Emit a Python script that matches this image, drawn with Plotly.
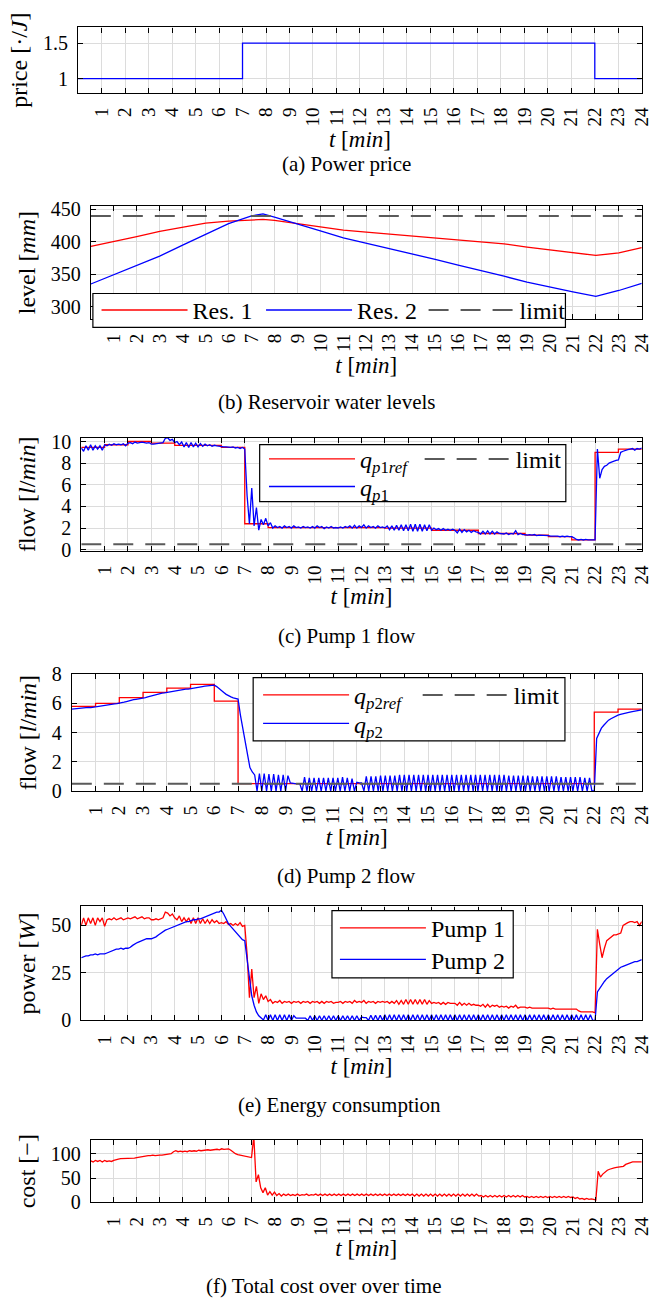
import plotly.graph_objects as go

W, H = 670, 1311
FONT = "Liberation Serif"
RED, BLUE, GRAY = "#ff0000", "#0000ff", "#5a5a5a"

# sample times of the logged signals (one sample every 6 s)
T = [i / 10 for i in range(241)]

# (a) power price
price_t = [0, 7, 22, 24]
price = [1.0, 1.5, 1.0, 1.0]

# (b) reservoir levels
level_t = [0, 1, 2, 3, 4, 5, 6, 7, 7.5, 8, 9, 10, 11, 12, 13, 14, 15, 16, 17, 18, 19, 20, 21, 22, 23, 24]
res1 = [393, 400, 408, 416, 423, 429, 432, 434, 434.5, 433, 428, 423, 418, 415, 412, 410, 407, 404, 401,
        397, 392, 388, 384, 379, 383, 391]
res2 = [335, 349, 363, 378, 395, 412, 428, 440, 443, 438, 428, 417, 406, 398, 390, 381, 373, 364, 356,
        347, 338, 330, 323, 316, 325, 336]
level_limit = [440, 440]
limit_t = [0, 24]

# (c) pump 1 flow
q1_ref_t = [0, 1, 2, 3, 4, 6, 7, 8, 13, 15, 17, 19, 20, 21, 22, 23, 24]
q1_ref = [9.45, 9.7, 10.0, 9.85, 9.65, 9.45, 2.4, 2.05, 2.0, 1.8, 1.5, 1.35, 1.2, 0.9, 9.0, 9.3, 9.3]
q1 = [
    9.4, 9.1, 9.6, 9.2, 9.7, 9.2, 9.6, 9.3, 9.6, 9.2,
    9.7, 9.6, 9.75, 9.65, 9.8, 9.7, 9.75, 9.7, 9.8, 9.6,
    9.85, 9.9, 9.8, 9.95, 9.85, 9.9, 9.95, 9.9, 9.85, 9.9,
    9.75, 9.75, 9.8, 9.8, 9.85, 9.9, 10.3, 10.35, 10.1, 10.2,
    9.9, 10.0, 9.7, 9.95, 9.5, 9.9, 9.45, 9.9, 9.5, 9.85,
    9.5, 9.8, 9.55, 9.75, 9.6, 9.7, 9.55, 9.65, 9.6, 9.55,
    9.55, 9.5, 9.5, 9.45, 9.45, 9.5, 9.4, 9.45, 9.35, 9.45,
    9.3, 5.0, 2.4, 5.7, 2.2, 3.9, 1.8, 2.8, 2.3, 2.9,
    2.2, 2.5, 2.0, 2.2, 2.05, 2.15, 2.0, 2.2, 2.05, 2.15,
    2.0, 2.2, 2.05, 2.1, 2.0, 2.15, 2.05, 2.1, 2.0, 2.15,
    2.0, 2.2, 2.05, 2.15, 1.95, 2.1, 2.0, 2.15, 2.0, 2.05,
    2.0, 2.1, 2.0, 2.15, 2.05, 2.2, 2.0, 2.25, 2.0, 2.2,
    2.05, 2.3, 2.0, 2.2, 2.05, 2.15, 2.0, 2.2, 2.05, 2.1,
    2.0, 2.2, 1.85, 2.2, 1.8, 2.25, 1.8, 2.3, 1.75, 2.3,
    1.75, 2.35, 1.7, 2.35, 1.7, 2.35, 1.7, 2.3, 1.75, 2.3,
    1.8, 2.0, 1.85, 1.95, 1.8, 1.95, 1.8, 1.9, 1.8, 1.9,
    1.8, 1.55, 1.9, 1.6, 1.85, 1.65, 1.8, 1.6, 1.75, 1.65,
    1.6, 1.45, 1.7, 1.45, 1.75, 1.45, 1.7, 1.45, 1.65, 1.5,
    1.5, 1.45, 1.55, 1.4, 1.5, 1.45, 1.75, 1.4, 1.5, 1.4,
    1.4, 1.35, 1.4, 1.35, 1.4, 1.3, 1.35, 1.35, 1.3, 1.3,
    1.3, 1.25, 1.25, 1.3, 1.25, 1.2, 1.25, 1.2, 1.25, 1.2,
    1.2, 1.1, 0.95, 0.9, 0.95, 0.9, 0.95, 0.9, 0.9, 0.85,
    0.9, 9.3, 6.6, 7.4, 7.7, 7.8, 8.0, 8.1, 8.2, 8.25,
    8.3, 9.0, 9.1, 9.2, 9.25, 9.3, 9.35, 9.2, 9.35, 9.3,
    9.4,
]
flow_limit = [0.5, 0.5]

# (d) pump 2 flow
q2_ref_t = [0, 1, 2, 3, 4, 5, 6, 7, 22, 23, 24]
q2_ref = [5.8, 6.0, 6.4, 6.75, 7.05, 7.3, 6.15, 0.5, 5.4, 5.6, 5.6]
q2 = [
    5.6, 5.62, 5.65, 5.63, 5.68, 5.7, 5.7, 5.72, 5.71, 5.74,
    5.75, 5.78, 5.82, 5.85, 5.88, 5.9, 5.93, 5.95, 5.97, 5.98,
    6.0, 6.03, 6.08, 6.12, 6.18, 6.22, 6.25, 6.28, 6.3, 6.32,
    6.35, 6.4, 6.45, 6.5, 6.55, 6.6, 6.63, 6.66, 6.7, 6.72,
    6.75, 6.8, 6.83, 6.86, 6.88, 6.9, 6.93, 6.95, 6.97, 6.98,
    7.0, 7.03, 7.05, 7.08, 7.1, 7.15, 7.18, 7.2, 7.22, 7.24,
    7.25, 7.15, 7.0, 6.85, 6.75, 6.62, 6.52, 6.45, 6.38, 6.32,
    6.3, 5.2, 4.3, 3.3, 2.5, 1.6, 1.3, 1.1, 0.0, 1.2,
    0.0, 1.2, 0.0, 1.15, 0.0, 1.15, 0.0, 1.1, 0.0, 1.1,
    0.0, 1.05, 0.55, 0.5, 0.5, 0.5, 0.5, 0.0, 0.95, 0.0,
    0.9, 0.0, 0.9, 0.0, 0.9, 0.0, 0.9, 0.0, 0.9, 0.0,
    0.9, 0.0, 0.9, 0.0, 0.95, 0.0, 0.9, 0.0, 0.85, 0.0,
    0.6, 0.55, 0.55, 0.0, 1.0, 0.0, 1.0, 0.0, 1.0, 0.0,
    1.05, 0.0, 1.05, 0.0, 1.05, 0.0, 1.05, 0.0, 1.1, 0.0,
    1.1, 0.0, 1.1, 0.0, 1.1, 0.0, 1.1, 0.0, 1.1, 0.0,
    1.1, 0.0, 1.1, 0.0, 1.1, 0.0, 1.1, 0.0, 1.1, 0.0,
    1.1, 0.0, 1.1, 0.0, 1.1, 0.0, 1.1, 0.0, 1.1, 0.0,
    1.1, 0.0, 1.1, 0.0, 1.1, 0.0, 1.1, 0.0, 1.1, 0.0,
    1.1, 0.0, 1.1, 0.0, 1.05, 0.0, 1.05, 0.0, 1.05, 0.0,
    1.05, 0.0, 1.05, 0.0, 1.0, 0.0, 1.0, 0.0, 1.0, 0.0,
    1.0, 0.0, 1.0, 0.0, 1.0, 0.0, 0.95, 0.0, 0.95, 0.0,
    0.95, 0.0, 0.95, 0.0, 0.95, 0.0, 0.9, 0.0, 0.9, 0.0,
    0.0, 3.6, 4.0, 4.3, 4.5, 4.7, 4.85, 4.95, 5.05, 5.12,
    5.2, 5.25, 5.3, 5.33, 5.37, 5.4, 5.43, 5.46, 5.5, 5.52,
    5.55,
]

# (e) power consumption
p1 = [
    50, 54, 50, 54, 51, 54, 50, 54, 52, 54,
    49.5, 53, 53.5, 53, 54, 53, 53.5, 54, 53, 53.5,
    54, 53.5, 54, 54.5, 53.5, 54, 54.5, 53.5, 54, 54,
    53, 53, 53.5, 53, 53.5, 54, 57, 56.5, 55, 56,
    54, 53, 55, 52, 54, 52, 54, 51, 54, 51,
    54, 51, 53.5, 51, 53, 51, 53, 51.5, 52.5, 51,
    51.5, 51, 52, 50.5, 51, 50, 51, 50, 51.5, 49.5,
    50, 35, 12, 27, 12, 18, 9, 14, 11, 13,
    10, 11, 9, 10, 9.5, 10.5, 9, 10, 9.5, 10,
    9, 10, 9.5, 10, 9, 10, 9.5, 10, 9, 10,
    9.5, 10, 9, 10, 9, 10, 9.5, 10, 9, 9.5,
    9.5, 10, 9, 10, 9.5, 10, 9, 10.5, 9.5, 10,
    9.5, 10.5, 9, 10, 9.5, 10, 9, 10, 9.5, 10,
    9.5, 10, 9, 10, 9, 10.5, 8.5, 10.5, 8.5, 11,
    8.5, 11, 8.5, 11, 8.5, 11, 8.5, 11, 8.5, 10.5,
    9, 9.5, 9, 9.5, 8.5, 9.5, 8.5, 9.5, 9, 9,
    9, 8, 9.5, 8, 9, 8, 9, 8, 8.5, 8,
    8, 7.5, 8.5, 7, 8.5, 7, 8, 7.5, 8, 7,
    7.5, 7, 7.5, 6.5, 7.5, 7, 8, 6.5, 7, 7,
    7, 6.5, 7, 6.5, 6.5, 6.5, 6.5, 6.5, 6.5, 6.5,
    6.5, 6, 6.5, 6, 6, 6, 6, 6, 6, 6,
    6, 6, 6, 5, 4.5, 4.5, 4.5, 4.5, 4.5, 4.5,
    4, 48, 40, 33, 38, 42, 43, 44, 45, 45,
    45.5, 46, 50, 51, 51.5, 52, 52, 51.5, 52, 50,
    52,
]
p2 = [
    33, 33.5, 34, 34, 34.5, 34.5, 35, 34.5, 35, 35,
    35, 35.5, 36, 36.5, 37, 37.5, 37.5, 38, 37.5, 38,
    38, 38.5, 39.5, 40.5, 41, 41.5, 42, 42.5, 43, 43,
    43, 43.5, 44, 45, 46, 47, 47.5, 48, 48.5, 49,
    49.5, 50, 50.5, 51, 51.5, 52, 52, 52.5, 53, 53,
    53.5, 53.5, 54, 54.5, 55, 55.5, 56, 56.5, 57, 57,
    58, 56, 53, 51, 49.5, 48, 46.5, 45, 43.5, 42.5,
    42, 33, 22, 13, 8, 4.5, 2.5, 1.2, 0.3, 3,
    0, 3, 0, 3, 0, 3, 0, 3, 0, 3,
    0, 2.5, 1.2, 1.2, 1.2, 1.2, 1.2, 0, 2.5, 0,
    2.5, 0, 2.5, 0, 2.5, 0, 2.5, 0, 2.5, 0,
    2.5, 0, 2.5, 0, 2.5, 0, 2.5, 0, 2.5, 0,
    1.8, 1.5, 1.5, 0, 2.8, 0, 2.8, 0, 2.8, 0,
    3, 0, 3, 0, 3, 0, 3, 0, 3, 0,
    3, 0, 3, 0, 3, 0, 3, 0, 3, 0,
    3, 0, 3, 0, 3, 0, 3, 0, 3, 0,
    3, 0, 3, 0, 3, 0, 3, 0, 3, 0,
    3, 0, 3, 0, 3, 0, 3, 0, 3, 0,
    3, 0, 3, 0, 3, 0, 3, 0, 3, 0,
    3, 0, 3, 0, 3, 0, 3, 0, 3, 0,
    3, 0, 3, 0, 3, 0, 3, 0, 3, 0,
    3, 0, 3, 0, 3, 0, 3, 0, 3, 0,
    0, 15, 17, 19, 20.5, 22, 23, 24, 25, 26,
    27, 28, 28.5, 29, 29.5, 30, 30.5, 31, 31, 31.5,
    32,
]

# (f) total cost
cost = [
    85, 83, 86, 84, 86, 83, 86, 84, 85, 84,
    86, 88, 89, 90, 90, 91, 90, 91, 90, 91,
    92, 93, 94, 95, 95, 96, 96, 97, 96, 97,
    97, 97, 98, 98, 99, 100, 104, 106, 104, 105,
    104, 105, 104, 106, 105, 106, 105, 107, 106, 107,
    107, 108, 107, 108, 108, 109, 108, 110, 109, 110,
    110, 107, 103, 100, 98, 97, 96, 95, 94, 93,
    92, 135, 42, 57, 30, 20, 30, 15, 22, 15,
    21, 14, 18, 13, 17, 14, 17, 14, 16, 14,
    17, 14, 16, 15, 17, 14, 16, 15, 17, 14,
    17, 14, 17, 14, 17, 14, 17, 14, 17, 14,
    17, 14, 17, 14, 17, 14, 17, 14, 17, 14,
    17, 14, 17, 14, 17, 14, 17, 14, 17, 14,
    17, 14, 17, 14, 17, 14, 17, 14, 17, 14,
    17, 13, 17, 13, 17, 13, 17, 13, 17, 13,
    17, 13, 17, 13, 17, 13, 17, 13, 17, 13,
    17, 13, 17, 13, 17, 13, 17, 13, 17, 13,
    14, 11, 14, 11, 14, 11, 14, 11, 14, 11,
    14, 11, 14, 11, 14, 11, 14, 11, 14, 11,
    12, 10, 12, 10, 12, 10, 12, 10, 12, 10,
    12, 10, 12, 10, 12, 10, 12, 10, 12, 10,
    11, 8, 10, 7, 8, 6, 8, 6, 7, 6,
    5, 64, 52, 58, 62, 66, 68, 70, 71, 72,
    73, 73, 74, 78, 80, 82, 83, 83, 83, 83,
    83,
]

# panel boxes in pixels: left, top, bottom (right edge is shared)
RIGHT = 651.5
boxes = [
    (79.3, 16.7, 83.3),
    (92.2, 198.5, 313.3),
    (82.5, 434.0, 549.0),
    (72.9, 674.5, 793.3),
    (82.5, 910.7, 1026.7),
    (92.2, 1148.3, 1211.7),
]
y_ranges = [[0.8, 1.72], [281, 455], [-0.1, 10.35], [0, 8], [0, 60], [0, 128]]
y_ticks = [[1, 1.5], [300, 350, 400, 450], [0, 2, 4, 6, 8, 10], [0, 2, 4, 6, 8], [0, 25, 50], [0, 50, 100]]
y_titles = ["price [·/<i>J</i>]", "level [<i>mm</i>]", "flow [<i>l</i>/<i>min</i>]",
            "flow [<i>l</i>/<i>min</i>]", "power [<i>W</i>]", "cost [−]"]
captions = ["(a) Power price", "(b) Reservoir water levels", "(c) Pump 1 flow",
            "(d) Pump 2 flow", "(e) Energy consumption", "(f) Total cost over over time"]
caption_pos = [(352, 156), (332, 398), (352, 636), (352, 880), (345, 1113), (328, 1297)]

# legend frames (px): x0, y0, x1, y1
legend_boxes = [(94.3, 287.3, 574, 321.7), (263.6, 441, 574.4, 499),
                (257, 678, 573.5, 742.3), (337, 915, 521, 983.3)]
# per legend entry: where its line sample starts and the centre of its row (px)
legend_spots = {
    "legend": (103, 304.5), "legend10": (270, 304.5), "legend11": (435, 304.5),
    "legend2": (273, 456), "legend4": (273, 484), "legend3": (431, 456),
    "legend5": (267, 696), "legend7": (267, 725), "legend6": (429, 696),
    "legend8": (345, 933), "legend9": (345, 965),
}


def line(color, width=1.3, dash=None):
    return dict(color=color, width=width, dash=dash)


def add(x, y, color, axis, name=None, legend=None, width=1.3, dash=None, shape="linear"):
    fig.add_trace(go.Scatter(x=x, y=y, mode="lines", line=line(color, width, dash), line_shape=shape,
                             name=name, showlegend=legend is not None, legend=legend or "legend",
                             xaxis="x" + axis, yaxis="y" + axis))


fig = go.Figure()
DASH = "20px,12px"

add(price_t, price, BLUE, "", shape="hv")

add(level_t, res1, RED, "2", "Res. 1", "legend")
add(level_t, res2, BLUE, "2", "Res. 2", "legend10")
add(limit_t, level_limit, GRAY, "2", "limit", "legend11", 2, DASH)

add(q1_ref_t, q1_ref, RED, "3", "<i>q</i><sub><i>p</i>1<i>ref</i></sub>", "legend2", shape="hv")
add(T, q1, BLUE, "3", "<i>q</i><sub><i>p</i>1</sub>", "legend4")
add(limit_t, flow_limit, GRAY, "3", "limit", "legend3", 2, DASH)

add(q2_ref_t, q2_ref, RED, "4", "<i>q</i><sub><i>p</i>2<i>ref</i></sub>", "legend5", shape="hv")
add(T, q2, BLUE, "4", "<i>q</i><sub><i>p</i>2</sub>", "legend7")
add(limit_t, flow_limit, GRAY, "4", "limit", "legend6", 2, DASH)

add(T, p1, RED, "5", "Pump 1", "legend8")
add(T, p2, BLUE, "5", "Pump 2", "legend9")

add(T, cost, RED, "6")

layout = dict(
    width=W, height=H, margin=dict(l=0, r=0, t=0, b=0),
    paper_bgcolor="white", plot_bgcolor="white",
    font=dict(family=FONT, color="black"),
    annotations=[], shapes=[],
)

for i, (left, top, bottom) in enumerate(boxes):
    n = i + 1
    sfx = "" if n == 1 else str(n)
    common = dict(showline=True, linecolor="black", linewidth=1.2, mirror="ticks",
                  ticks="inside", ticklen=5, tickwidth=1, tickcolor="black",
                  showgrid=True, gridcolor="#dcdcdc", gridwidth=1, zeroline=False)
    layout["xaxis" + sfx] = dict(common, domain=[left / W, RIGHT / W], anchor="y" + sfx, range=[0, 24],
                                 tickmode="array", tickvals=list(range(1, 25)), tickangle=-90,
                                 tickfont=dict(size=19), ticklabelstandoff=6,
                                 title=dict(text="<i>t</i> [<i>min</i>]", font=dict(size=23), standoff=4))
    layout["yaxis" + sfx] = dict(common, domain=[1 - bottom / H, 1 - top / H], anchor="x" + sfx,
                                 range=y_ranges[i], tickmode="array", tickvals=y_ticks[i],
                                 tickfont=dict(size=20), ticklabelstandoff=5,
                                 title=dict(text=y_titles[i], font=dict(size=24), standoff=8))
    cx, cy = caption_pos[i]
    layout["annotations"].append(dict(text=captions[i], x=cx / W, y=1 - cy / H, xref="paper",
                                      yref="paper", showarrow=False, font=dict(size=21),
                                      xanchor="center", yanchor="middle"))

# white legend frames drawn over the grid and the curves
for x0, y0, x1, y1 in legend_boxes:
    layout["shapes"].append(dict(type="rect", xref="paper", yref="paper", x0=x0 / W, x1=x1 / W,
                                 y0=1 - y1 / H, y1=1 - y0 / H, fillcolor="white",
                                 line=dict(color="black", width=1.2), layer="above"))

# one legend per entry so every entry sits where the reference puts it
for key, (lx, ly) in legend_spots.items():
    layout[key] = dict(x=(lx - 5) / W, y=1 - ly / H, xanchor="left", yanchor="middle",
                       font=dict(size=24), bgcolor="rgba(0,0,0,0)", borderwidth=0,
                       itemwidth=86, tracegroupgap=0)

fig.update_layout(layout)
fig.write_html("out.html", config={"displayModeBar": False},
               post_script="document.body.style.margin = '0';")
